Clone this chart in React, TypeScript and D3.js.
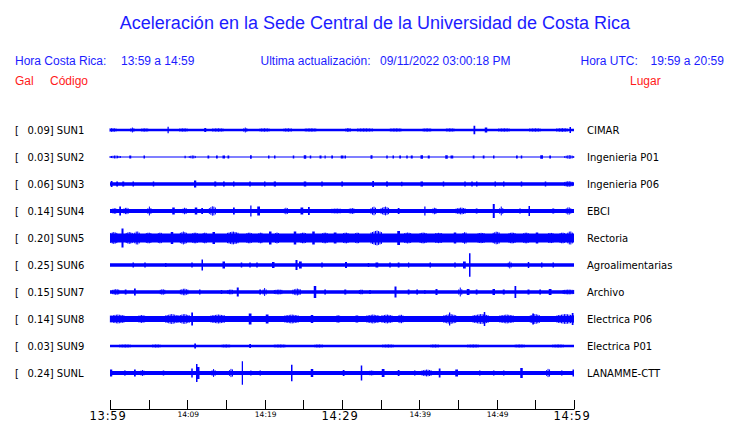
import React from "react";
import * as d3 from "d3";

// ---------- DATA ----------
const title = "Aceleración en la Sede Central de la Universidad de Costa Rica";
const lastUpdate = "09/11/2022 03:00:18 PM";
const localRange = "13:59 a 14:59";
const utcRange = "19:59 a 20:59";

const codes = ["SUN1", "SUN2", "SUN3", "SUN4", "SUN5", "SUN6", "SUN7", "SUN8", "SUN9", "SUNL"];
const gals = ["0.09", "0.03", "0.06", "0.14", "0.20", "0.25", "0.15", "0.14", "0.03", "0.24"];
const places = ["CIMAR", "Ingenieria P01", "Ingenieria P06", "EBCI", "Rectoria", "Agroalimentarias", "Archivo", "Electrica P06", "Electrica P01", "LANAMME-CTT"];

// base (background noise) amplitude of each trace
const baseAmp = [1.3, 0.5, 1.7, 2.0, 4.6, 1.8, 1.8, 3.0, 1.2, 2.1];

// bursts: [minute, amplitude, duration(min)]
const bursts1 = [[0.3, 1.9, 1.2], [2.9, 2.5, 0.4], [4.5, 1.7, 0.8], [7.5, 3.3, 0.15], [9.5, 1.7, 1], [12.3, 2, 0.2], [14, 1.7, 1.5], [17.5, 2.5, 0.4], [20, 1.7, 1.2], [23, 1.7, 1], [26, 1.7, 1.5], [30.8, 2, 0.6], [33, 1.7, 2], [37, 1.7, 1.5], [41, 1.7, 1], [44, 1.7, 1], [47.1, 4.2, 0.2], [48.6, 2.5, 0.3], [51, 1.7, 1.5], [55, 1.7, 1.5], [58.5, 1.9, 1.5], [59.5, 3, 0.15]];
const bursts2 = [[0.7, 1.6, 1.4], [2.6, 1.5, 0.2], [4.4, 1.5, 0.15], [9.7, 1.3, 0.15], [10.7, 1.7, 0.9], [12.7, 1.5, 0.2], [13.8, 1.5, 0.2], [14.7, 1.5, 0.3], [15.3, 1.5, 0.2], [18.2, 1.8, 0.2], [20.5, 1.5, 0.15], [21.3, 1.5, 0.15], [23.7, 1.5, 0.15], [25.2, 1.7, 0.3], [25.9, 1.5, 0.15], [27.2, 1.5, 0.2], [27.8, 1.5, 0.15], [28.7, 1.5, 0.2], [30, 1.5, 0.3], [30.4, 1.5, 0.15], [33.8, 1.7, 0.2], [35.8, 1.5, 0.15], [36.6, 1.5, 0.15], [37.5, 1.5, 0.2], [38.4, 1.5, 0.15], [39, 1.5, 0.2], [40.3, 1.7, 0.3], [41.2, 1.5, 0.2], [43.5, 1.7, 0.3], [44.2, 1.5, 0.3], [47, 1.5, 0.2], [48.3, 1.5, 0.2], [49.6, 1.5, 0.15], [52.6, 1.5, 0.2], [53.2, 1.5, 0.15], [55.8, 1.7, 0.3], [56.9, 1.5, 0.2], [59.4, 2, 1.2]];
const bursts3 = [[0.2, 3, 0.2], [0.9, 2.5, 0.2], [1.7, 2.5, 0.2], [3, 2.5, 0.15], [5.6, 2.5, 0.15], [11, 3.5, 0.25], [13.6, 2.5, 0.2], [14.7, 2.5, 0.2], [16, 2.5, 0.15], [18.1, 2.5, 0.15], [20, 2.5, 0.15], [21.3, 2.5, 0.25], [25.2, 2.6, 0.3], [27.4, 2.5, 0.15], [30, 2.5, 0.2], [34, 3, 0.2], [35.8, 2.5, 0.2], [37.7, 2.3, 0.15], [40.3, 2.5, 0.3], [43.1, 2.5, 0.15], [45.9, 2.5, 0.15], [46.8, 2.5, 0.15], [47.4, 2.5, 0.15], [49.8, 2.5, 0.15], [50.9, 2.5, 0.15], [53.2, 2.5, 0.15], [56.3, 2.5, 0.15], [59.3, 3, 1]];
const bursts4 = [[0.6, 3, 0.5], [1.3, 4.5, 0.2], [2.1, 3.5, 0.6], [5.1, 4.5, 0.4], [8.2, 3.5, 0.3], [9.7, 3.5, 0.5], [11.1, 3.5, 0.3], [11.9, 3, 0.2], [13.3, 5, 0.9], [16, 3.5, 0.2], [18.2, 5.5, 0.15], [19.2, 4.5, 0.3], [22.8, 3.5, 0.5], [24.8, 3.5, 0.3], [25.7, 4, 0.2], [29.3, 2.5, 1.3], [31.3, 3, 0.7], [34.1, 4.5, 0.7], [35.6, 4.5, 1.1], [37.3, 3, 0.2], [40.7, 4.5, 0.15], [42, 3.5, 0.5], [45.4, 3.5, 1.3], [47.4, 2.5, 0.2], [49.6, 7, 0.2], [50.6, 4.5, 0.4], [53, 2.5, 0.15], [54.2, 5, 0.15], [57.3, 2.5, 0.2], [59.3, 4, 0.6]];
const bursts5 = [[0.5, 6, 0.8], [1.6, 9.5, 0.2], [2.5, 6, 0.8], [3.5, 7, 0.6], [5, 5.5, 0.6], [6.5, 5.5, 0.5], [8, 6, 0.3], [9.5, 6.5, 0.8], [11, 5.5, 0.6], [12.3, 5.5, 0.5], [13.4, 6, 0.3], [15.9, 6.5, 1.4], [18, 5.5, 0.6], [19.5, 5.5, 0.5], [20.7, 6.5, 0.3], [21.6, 5.5, 0.4], [23.9, 6.5, 0.3], [25, 5.5, 0.6], [26.3, 6.5, 0.3], [27.8, 5.5, 0.6], [29.1, 5.5, 0.3], [30.5, 5.5, 0.6], [32, 5.5, 0.5], [34.5, 7.5, 1.5], [37.3, 7, 0.3], [38.5, 5.5, 0.8], [40.5, 5.5, 0.8], [42.5, 5.2, 0.8], [44.6, 5.5, 0.3], [45.9, 6, 0.5], [48, 5.2, 0.8], [50, 6.5, 0.9], [52, 5.5, 0.8], [53.8, 5.5, 0.6], [55.2, 5.5, 0.3], [57, 5.2, 0.6], [58.5, 5.5, 0.6], [59.5, 7, 0.6]];
const bursts6 = [[3, 2.5, 0.15], [4.5, 2.5, 0.15], [7.2, 2, 0.15], [10.6, 2.5, 0.15], [11.9, 5.5, 0.15], [14.7, 3.5, 0.3], [17, 2.5, 0.15], [18.1, 2.5, 0.15], [19, 2.5, 0.15], [21.1, 3, 0.3], [24.1, 5, 0.2], [24.6, 3.5, 0.3], [27.4, 2.5, 0.15], [30.5, 3, 0.2], [33.4, 2, 0.15], [34.5, 2.5, 0.3], [36.2, 2.5, 0.15], [37.3, 2.5, 0.2], [38.6, 2.5, 0.15], [41.4, 2.5, 0.15], [44.6, 2.5, 0.15], [45.8, 3.5, 0.3], [46.5, 11.7, 0.15], [51.7, 3.5, 0.4], [54.1, 3, 0.15], [55.8, 2.5, 0.15], [57.3, 2.5, 0.15]];
const bursts7 = [[0.8, 3, 0.9], [2, 2.5, 0.2], [3.2, 3.5, 0.2], [6.8, 3, 0.6], [9.6, 3.5, 1], [11.6, 2.5, 0.15], [14.4, 2, 0.15], [15.6, 2.5, 0.7], [16.5, 4.5, 0.2], [19.4, 2.5, 0.2], [20, 4, 0.4], [21.8, 2.5, 1.1], [24.2, 3.5, 1.1], [26.5, 6, 0.3], [27.8, 2.5, 0.2], [30.4, 2.5, 0.2], [32.5, 2.5, 0.5], [33.6, 2, 0.15], [36.9, 5.5, 0.2], [38.6, 2.5, 0.2], [39.7, 2.5, 0.2], [40.7, 2, 0.15], [42.2, 3, 0.2], [45.3, 4.5, 0.4], [46.3, 3, 0.3], [47.4, 2.5, 0.2], [49.6, 3, 0.3], [50.9, 2.5, 0.2], [52.4, 6, 0.2], [54.1, 2.5, 0.2], [55.6, 2.5, 0.2], [56.9, 3, 0.3], [59.3, 2.5, 1.4]];
const bursts8 = [[1, 4.5, 1.9], [4.1, 4, 0.8], [8, 5, 1.6], [9.6, 5, 1.4], [10.6, 6.5, 0.2], [14, 4.5, 1.9], [18.1, 5.5, 0.3], [20.3, 4.5, 0.3], [23.5, 4.5, 1.8], [26.1, 4, 0.3], [29.5, 4, 0.4], [31.9, 3.5, 0.3], [34, 4.5, 1.6], [35.8, 4.5, 1.4], [37.6, 4.5, 0.6], [44, 5, 1.7], [43.9, 6.5, 0.15], [48, 5, 2.1], [48.4, 7, 0.15], [51.3, 4.5, 1.8], [55, 5, 1.3], [54.7, 5.5, 0.2], [58.9, 5, 2.2], [59.8, 6, 0.2]];
const bursts9 = [[2, 1.6, 1.5], [6, 1.6, 1], [11, 2.5, 0.2], [15, 1.6, 1], [18.1, 2, 0.2], [22, 1.6, 1.5], [27, 1.6, 1], [36, 1.6, 1.5], [42, 1.6, 1], [47, 1.6, 1.5], [53, 1.6, 1.2], [58, 1.6, 1.5]];
const bursts10 = [[0.1, 3.5, 0.3], [1.9, 2.5, 0.2], [3.2, 3.5, 0.2], [4.2, 3, 0.4], [6.9, 2.5, 0.15], [10.6, 4.5, 0.15], [11.2, 9, 0.15], [11.4, 6, 0.3], [13.4, 4, 0.4], [15.7, 4.5, 0.5], [17.1, 11.7, 0.15], [18.2, 2.5, 0.15], [19.4, 2.5, 0.15], [23.5, 8.3, 0.15], [26.1, 4, 0.3], [30.2, 3, 0.2], [32.5, 7.5, 0.15], [33.8, 2.5, 0.4], [35.3, 4, 0.3], [37.3, 3, 0.2], [39.4, 2.5, 0.15], [41, 3.5, 1.3], [42.6, 4.5, 0.2], [44.8, 3.5, 0.3], [47.8, 2.5, 0.15], [49.6, 2.5, 0.15], [50.9, 2.5, 0.15], [53.2, 5, 0.3], [56.7, 4.5, 0.5], [58.4, 2.5, 0.15], [59.9, 3.5, 0.2]];
const allBursts = [bursts1, bursts2, bursts3, bursts4, bursts5, bursts6, bursts7, bursts8, bursts9, bursts10];

const tickMinutes = [0, 5, 10, 15, 20, 25, 30, 35, 40, 45, 50, 55, 60];
const tickLabels = ["13:59", "", "14:09", "", "14:19", "", "14:29", "", "14:39", "", "14:49", "", "14:59"];
const majorLabels = ["13:59", "14:29", "14:59"];

// ---------- CHART ----------
const W = 740, H = 423;
const BLUE = "#1c1cff";
const TRACE = "#0000ff";
const RED = "#ff1a1a";
const SANS = "'Liberation Sans', Arial, sans-serif";
const DEJAVU = "'DejaVu Sans', sans-serif";

type Seg = { x: number; e: number };

export default function App() {
  const x = d3.scaleLinear().domain([0, 60]).range([110, 574]);
  const row = d3.scaleBand<number>().domain(d3.range(codes.length)).range([116.5, 386.5]);
  const amp = d3.scaleLinear().domain([0, 12]).range([0, 12]);

  const pxStep = 1.5; // one trace stroke every 1.5 px across a wide burst

  // background band + short spikes as one step-area
  const samples = d3.range(0, 60.0001, 60 / 1856);
  const envelope = (i: number) =>
    samples.map((t) => {
      let e = baseAmp[i];
      for (const [m, a, w] of allBursts[i]) {
        if (w <= 0.3 && Math.abs(t - m) <= w / 2 + 0.02) e = Math.max(e, a);
      }
      return { t, e };
    });

  // wide bursts drawn as clusters of vertical strokes with a spindle envelope
  const strokes = (i: number): Seg[] => {
    const out: Seg[] = [];
    const b = baseAmp[i];
    for (const [m, a, w] of allBursts[i]) {
      if (w <= 0.3) continue;
      const x0 = x(Math.max(0, m - w / 2));
      const x1 = x(Math.min(60, m + w / 2));
      const xc = x(m);
      const half = (x1 - x0) / 2 || 1;
      for (let px = x0; px <= x1; px += pxStep) {
        const k = 1 - Math.abs(px - xc) / half;
        out.push({ x: px, e: b + (a - b) * Math.max(0, 0.3 + 0.7 * k) });
      }
    }
    return out;
  };

  return (
    <svg width={W} height={H} style={{ position: "absolute", left: 0, top: 0, background: "#fff" }}>
      <text x={375} y={29} textAnchor="middle" fontFamily={SANS} fontSize={18} fill={BLUE}>{title}</text>

      <g fontFamily={SANS} fontSize={12} fill={BLUE}>
        <text x={15} y={65}>Hora Costa Rica:</text>
        <text x={121} y={65}>{localRange}</text>
        <text x={260.5} y={65}>Ultima actualización:</text>
        <text x={380} y={65}>{lastUpdate}</text>
        <text x={580.5} y={65}>Hora UTC:</text>
        <text x={650.5} y={65}>{utcRange}</text>
      </g>
      <g fontFamily={SANS} fontSize={12} fill={RED}>
        <text x={15} y={85}>Gal</text>
        <text x={50} y={85}>Código</text>
        <text x={630} y={85}>Lugar</text>
      </g>

      {codes.map((c, i) => {
        const cy = (row(i) as number) + row.bandwidth() / 2;
        const area = d3
          .area<{ t: number; e: number }>()
          .x((d) => x(d.t))
          .y0((d) => cy + amp(d.e))
          .y1((d) => cy - amp(d.e))
          .curve(d3.curveStepAfter);
        return (
          <g key={c}>
            <text x={15} y={cy + 4} fontFamily={DEJAVU} fontSize={10} fill="#000">[</text>
            <text x={27.5} y={cy + 4} fontFamily={DEJAVU} fontSize={10} fill="#000">{`${gals[i]}] ${c}`}</text>
            <path d={area(envelope(i)) || ""} fill={TRACE} />
            {strokes(i).map((s, k) => (
              <line key={k} x1={s.x} x2={s.x} y1={cy - amp(s.e)} y2={cy + amp(s.e)} stroke={TRACE} strokeWidth={1} />
            ))}
            <text x={587} y={cy + 4} fontFamily={DEJAVU} fontSize={10} fill="#000">{places[i]}</text>
          </g>
        );
      })}

      <g>
        <line x1={x(0)} x2={x(60)} y1={409.5} y2={409.5} stroke="#000" strokeWidth={1} />
        {tickMinutes.map((m, k) => (
          <g key={m}>
            <line x1={Math.round(x(m)) + 0.5} x2={Math.round(x(m)) + 0.5} y1={400} y2={409.5} stroke="#000" strokeWidth={1} />
            {tickLabels[k] &&
              (majorLabels.includes(tickLabels[k]) ? (
                <text x={x(m) - 2} y={420} textAnchor="middle" fontFamily={DEJAVU} fontSize={11.5} letterSpacing={0.8} fill="#000">{tickLabels[k]}</text>
              ) : (
                <text x={x(m) + 1} y={416.5} textAnchor="middle" fontFamily={DEJAVU} fontSize={7.5} fill="#000">{tickLabels[k]}</text>
              ))}
          </g>
        ))}
      </g>
    </svg>
  );
}
